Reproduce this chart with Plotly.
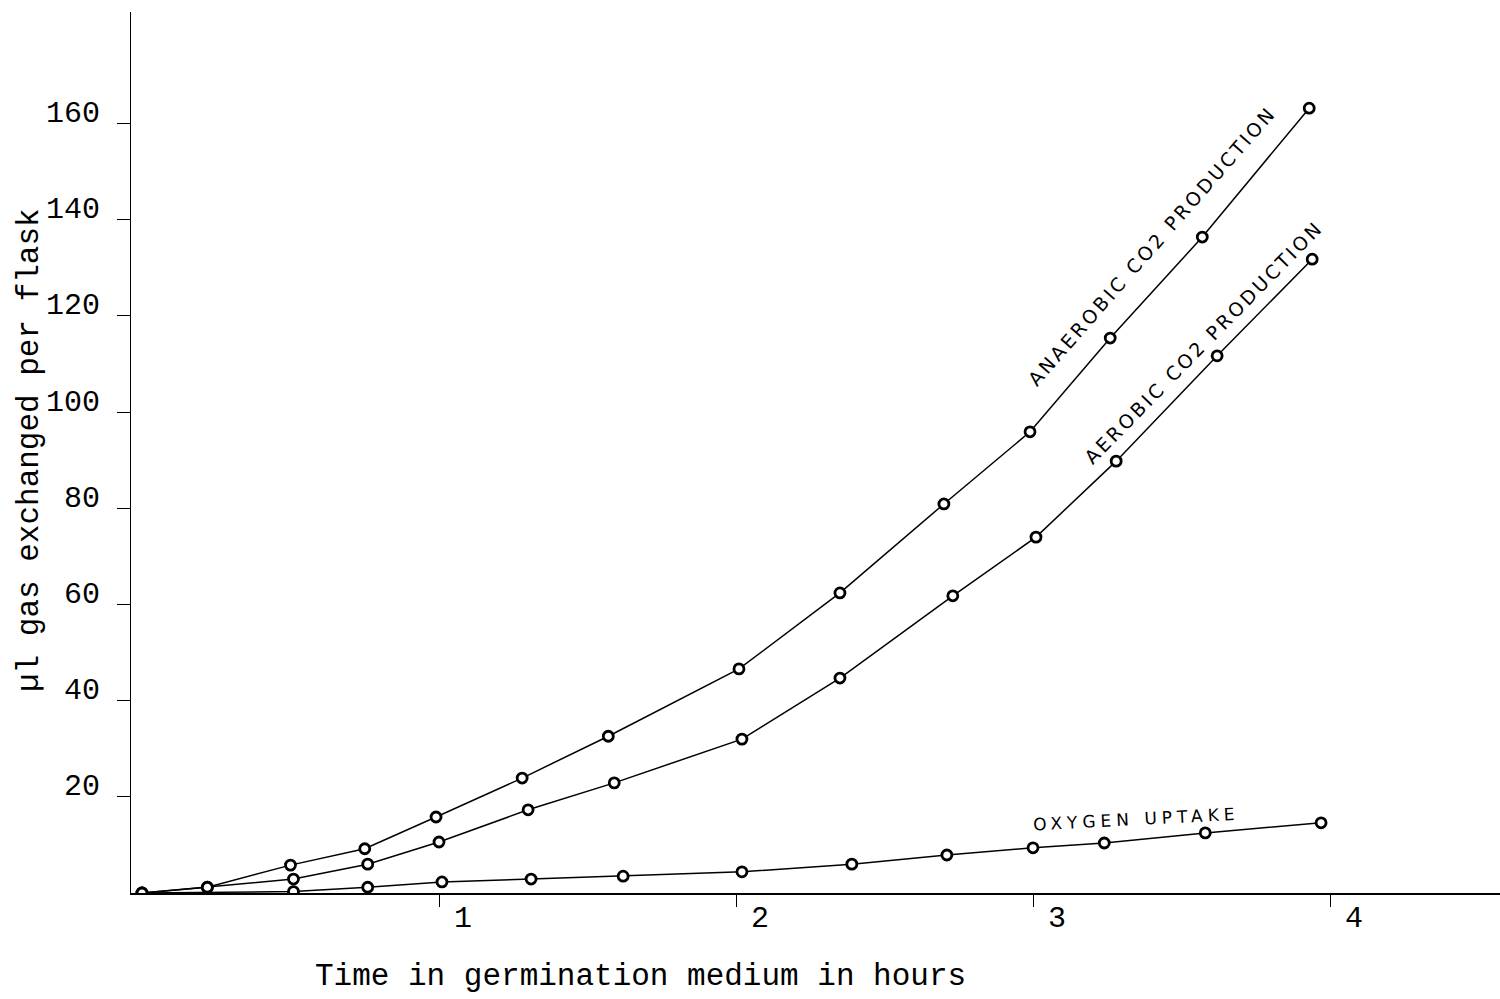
import plotly.graph_objects as go

# Time in germination medium (hours) and gas exchanged per flask (µl)
anaerobic_t = [0, 0.22, 0.50, 0.75, 0.99, 1.28, 1.57, 2.01, 2.35, 2.70, 2.99, 3.26, 3.57, 3.93]
anaerobic_v = [0, 1.2, 5.8, 9.2, 15.8, 23.9, 32.6, 46.6, 62.4, 80.9, 95.9, 115.4, 136.4, 163.2]

aerobic_t = [0, 0.22, 0.51, 0.76, 1.00, 1.30, 1.59, 2.02, 2.35, 2.73, 3.01, 3.28, 3.62, 3.94]
aerobic_v = [0, 1.2, 2.9, 6.0, 10.6, 17.3, 22.9, 32.0, 44.7, 61.8, 74.0, 89.8, 111.7, 131.8]

oxygen_t = [0, 0.51, 0.76, 1.01, 1.31, 1.62, 2.02, 2.39, 2.71, 3.00, 3.24, 3.58, 3.97]
oxygen_v = [0, 0.3, 1.2, 2.3, 2.9, 3.5, 4.4, 6.0, 7.9, 9.4, 10.4, 12.5, 14.6]

y_ticks = [20, 40, 60, 80, 100, 120, 140, 160]
x_ticks = [1, 2, 3, 4]

TYPE_FONT = "Liberation Mono"
HAND_FONT = "DejaVu Sans"

fig = go.Figure()

for t, v in [(anaerobic_t, anaerobic_v), (aerobic_t, aerobic_v), (oxygen_t, oxygen_v)]:
    fig.add_trace(go.Scatter(
        x=t, y=v, mode="lines+markers",
        line=dict(color="black", width=1.5),
        marker=dict(symbol="circle", size=10, color="white",
                    line=dict(color="black", width=2.8)),
        showlegend=False, hoverinfo="skip",
    ))


def spaced(text, gap):
    return f"<span style='letter-spacing:{gap}px'>{text}</span>"


# Hand-lettered curve labels
fig.add_annotation(x=3.40, y=134.5, xref="x", yref="y", showarrow=False,
                   xanchor="center", yanchor="middle",
                   text=spaced("ANAEROBIC CO2 PRODUCTION", 3), textangle=-48.7,
                   font=dict(family=HAND_FONT, size=19, color="black"))
fig.add_annotation(x=3.575, y=114.6, xref="x", yref="y", showarrow=False,
                   xanchor="center", yanchor="middle",
                   text=spaced("AEROBIC CO2 PRODUCTION", 3), textangle=-45.6,
                   font=dict(family=HAND_FONT, size=19, color="black"))
fig.add_annotation(x=3.35, y=15.4, xref="x", yref="y", showarrow=False,
                   xanchor="center", yanchor="middle",
                   text=spaced("OXYGEN UPTAKE", 5), textangle=-3,
                   font=dict(family=HAND_FONT, size=17, color="black"))

# Typed axis titles
L, R, T, B = 131, 0, 12, 106
W, H = 1500, 999
pw, ph = W - L - R, H - T - B


def px_to_paper(px, py):
    return (px - L) / pw, (H - B - py) / ph


ax, ay = px_to_paper(640, 976)
fig.add_annotation(x=ax, y=ay, xref="paper", yref="paper", showarrow=False,
                   xanchor="center", yanchor="middle",
                   text="Time in germination medium in hours",
                   font=dict(family=TYPE_FONT, size=31, color="black"))
bx, by = px_to_paper(29, 450)
fig.add_annotation(x=bx, y=by, xref="paper", yref="paper", showarrow=False,
                   xanchor="center", yanchor="middle",
                   text="µl gas exchanged per flask", textangle=-90,
                   font=dict(family=TYPE_FONT, size=31, color="black"))

x0 = (L - 142) / 297
x1 = (W - R - 142) / 297
fig.update_xaxes(
    range=[x0, x1], tickvals=x_ticks, ticktext=[str(v) for v in x_ticks],
    showline=True, linecolor="black", linewidth=2, mirror=False,
    ticks="outside", ticklen=12, tickwidth=1, tickcolor="black",
    ticklabelshift=24, ticklabelstandoff=-16,
    tickfont=dict(family=TYPE_FONT, size=30, color="black"),
    showgrid=False, zeroline=False,
)
fig.update_yaxes(
    range=[0, (H - B - T) / 4.809], tickvals=y_ticks,
    showline=True, linecolor="black", linewidth=1,
    ticks="outside", ticklen=13, tickwidth=1.3, tickcolor="black",
    ticklabelshift=-12, ticklabelstandoff=11,
    tickfont=dict(family=TYPE_FONT, size=30, color="black"),
    showgrid=False, zeroline=False,
)

fig.update_layout(
    width=W, height=H,
    margin=dict(l=L, r=R, t=T, b=B),
    paper_bgcolor="white", plot_bgcolor="white",
)

fig.write_html("out.html")
